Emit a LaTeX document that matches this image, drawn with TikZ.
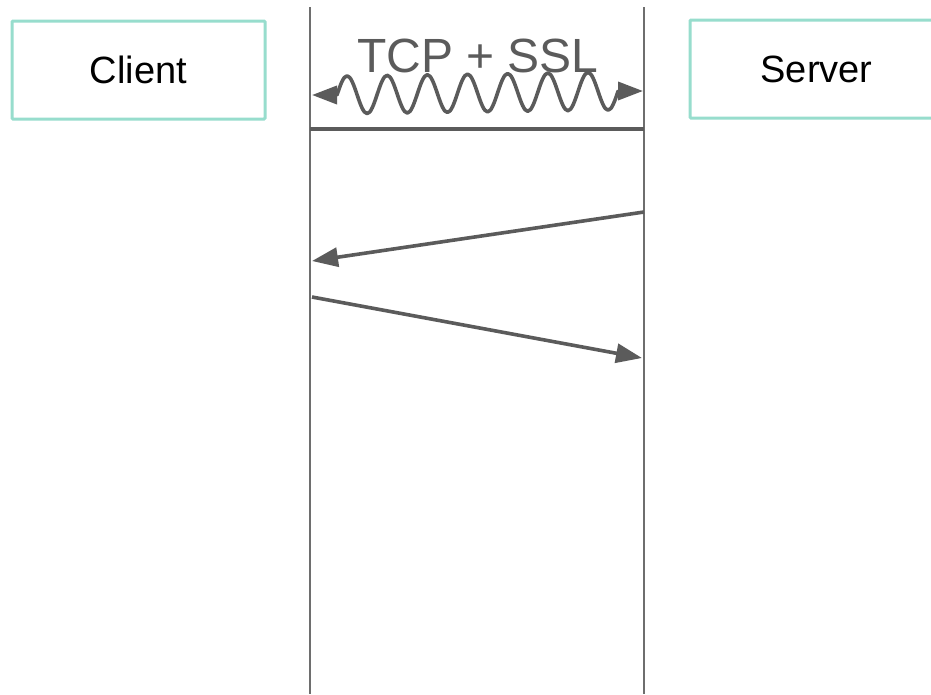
\documentclass[tikz,border=0pt]{standalone}
\usepackage{fontspec}
\setmainfont{Liberation Sans}
\usetikzlibrary{arrows.meta}
\definecolor{boxteal}{HTML}{97DDCD}
\definecolor{linegray}{HTML}{5B5B5B}
\definecolor{lifegray}{HTML}{6E6E6E}
\tikzset{
  actor/.style={draw=boxteal, line width=3pt, rounded corners=1pt, fill=white,
    minimum height=98pt, font=\fontsize{38}{44}\selectfont, text=black},
  lifeline/.style={draw=lifegray, line width=2pt},
  msg/.style={draw=linegray, line width=3.6pt, -{Triangle[length=26pt,width=19pt]}},
  wavetip/.style={draw=linegray, line width=3.6pt, -{Triangle[length=25pt,width=18pt]}},
  wave/.style={draw=linegray, line width=3.6pt, line join=round, line cap=round},
}
\begin{document}
\begin{tikzpicture}[x=1pt,y=-1pt]
  \useasboundingbox (0,0) rectangle (931,694);
  \clip (0,0) rectangle (931,694);
  \fill[white] (0,0) rectangle (931,694);

  % participants
  \node[actor, minimum width=253pt] (client) at (138.5,70) {Client};
  \node[actor, minimum width=253pt] (server) at (816.5,69) {Server};

  % lifelines
  \coordinate (ctop) at (310,7);
  \coordinate (cbot) at (310,694);
  \coordinate (stop) at (644,7);
  \coordinate (sbot) at (644,694);
  \draw[lifeline] (ctop) -- (cbot);
  \draw[lifeline] (stop) -- (sbot);

  % connection setup: label, wavy double arrow and separator
  \node[font=\fontsize{48}{54}\selectfont, text=linegray] (tls) at (478,56) {TCP + SSL};
  \coordinate (wl) at (312,95);
  \coordinate (wr) at (643,91);
  \coordinate (wl2) at (337,95);
  \coordinate (wr2) at (618.1,91);
  % seven sine periods between the two arrow tips
  \draw[wave] (wl2)
    \foreach \k in {1,...,7} {
      sin ++(10.04,-19.143) cos ++(10.04,18.857)
      sin ++(10.04,18.857) cos ++(10.04,-19.143)
    };
  \draw[wavetip] (wl2) -- (wl);
  \draw[wavetip] (wr2) -- (wr);
  \coordinate (bl) at (310,129);
  \coordinate (br) at (644,129);
  \draw[draw=linegray, line width=3.4pt] (bl) -- (br);

  % messages
  \coordinate (m1s) at (644,212);
  \coordinate (m1e) at (312,261);
  \coordinate (m2s) at (312,297);
  \coordinate (m2e) at (642,358);
  \draw[msg] (m1s) -- (m1e);
  \draw[msg] (m2s) -- (m2e);
\end{tikzpicture}
\end{document}
